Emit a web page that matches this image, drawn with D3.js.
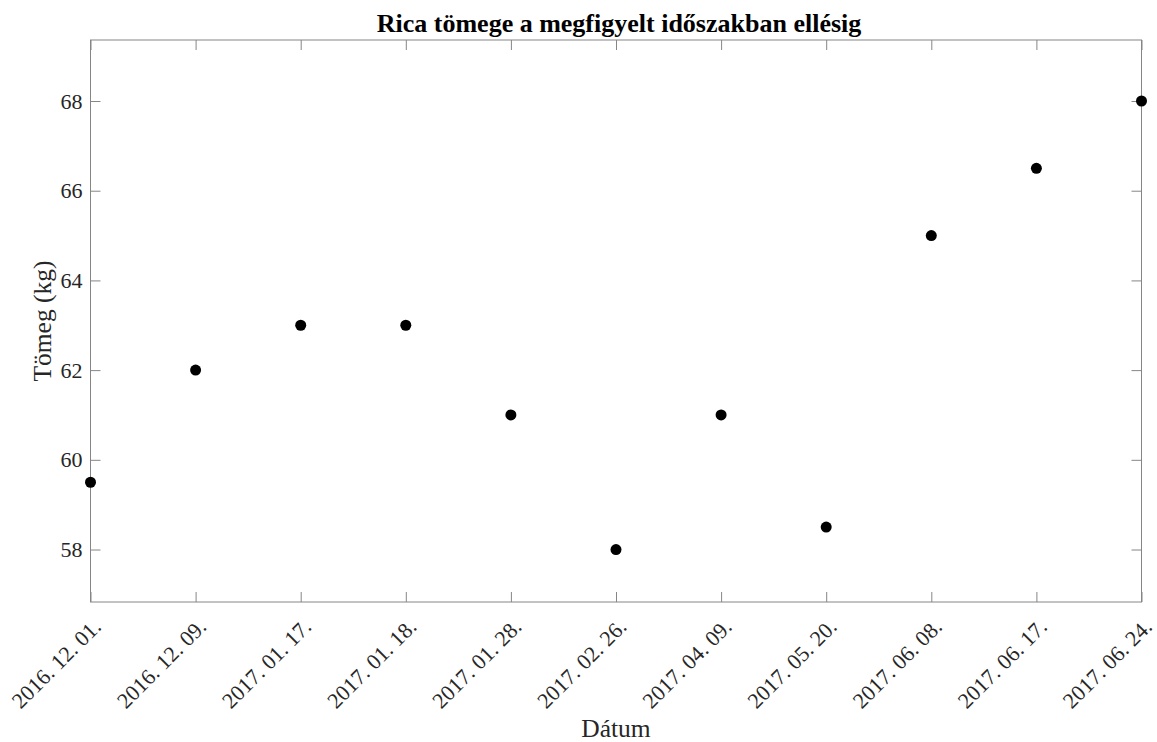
<!DOCTYPE html>
<html>
<head>
<meta charset="utf-8">
<script src="https://cdn.jsdelivr.net/npm/d3@7"></script>
<style>
  body { margin: 0; background: #fff; }
  svg text { font-family: "Liberation Serif", "Times New Roman", serif; }
</style>
</head>
<body>
<svg id="chart" width="1157" height="742"></svg>
<script>
var dates = ["2016. 12. 01.", "2016. 12. 09.", "2017. 01. 17.", "2017. 01. 18.", "2017. 01. 28.",
             "2017. 02. 26.", "2017. 04. 09.", "2017. 05. 20.", "2017. 06. 08.", "2017. 06. 17.", "2017. 06. 24."];
var weights = [59.5, 62, 63, 63, 61, 58, 61, 58.5, 65, 66.5, 68];
var yTicks = [58, 60, 62, 64, 66, 68];

var svg = d3.select('#chart'),
    margin = {top: 40, right: 15.5, bottom: 140, left: 90.5},
    width = +svg.attr('width') - margin.left - margin.right,
    height = 602 - margin.top;

var axisColor = '#868686', textColor = '#262626',
    serif = '"Liberation Serif", "Times New Roman", serif';

var x = d3.scalePoint().domain(dates).range([0, width]);
var y = d3.scaleLinear().domain([56.83, 69.36]).range([height, 0]);

var g = svg.append('g').attr('transform', 'translate(' + margin.left + ',' + margin.top + ')');

// box
g.append('rect')
    .attr('width', width).attr('height', height)
    .attr('fill', 'none').attr('stroke', axisColor).attr('stroke-width', 1);

// y ticks (left + right, inward)
var yAxis = g.append('g').call(d3.axisLeft(y).tickValues(yTicks).tickSize(-10).tickPadding(8));
yAxis.attr('font-family', serif);
yAxis.select('.domain').remove();
yAxis.selectAll('line').attr('stroke', axisColor);
yAxis.selectAll('text').attr('fill', textColor).style('font-size', '22px').style('font-family', serif);

var yRight = g.append('g').attr('transform', 'translate(' + width + ',0)')
    .call(d3.axisRight(y).tickValues(yTicks).tickSize(-10).tickFormat(''));
yRight.select('.domain').remove();
yRight.selectAll('line').attr('stroke', axisColor);

// x ticks (bottom + top, inward)
var xAxis = g.append('g').attr('transform', 'translate(0,' + height + ')')
    .call(d3.axisBottom(x).tickSize(-10).tickFormat(''));
xAxis.select('.domain').remove();
xAxis.selectAll('line').attr('stroke', axisColor);

var xTop = g.append('g').call(d3.axisTop(x).tickSize(-10).tickFormat(''));
xTop.select('.domain').remove();
xTop.selectAll('line').attr('stroke', axisColor);

// rotated x labels
g.selectAll('.xlab')
    .data(dates)
    .enter()
    .append('text')
    .attr('class', 'xlab')
    .attr('transform', d => 'translate(' + (x(d) + 12) + ',' + (height + 26) + ') rotate(-45)')
    .attr('text-anchor', 'end')
    .attr('fill', textColor)
    .style('font-size', '22px')
    .style('font-family', serif)
    .text(d => d);

// points
g.selectAll('.dot')
    .data(weights)
    .enter()
    .append('circle')
    .attr('class', 'dot')
    .attr('cx', (d, i) => x(dates[i]))
    .attr('cy', d => y(d))
    .attr('r', 5.5)
    .attr('fill', '#000');

// title + axis labels
svg.append('text')
    .attr('x', 619).attr('y', 32)
    .attr('text-anchor', 'middle')
    .style('font-size', '26px').style('font-weight', 'bold')
    .style('font-family', serif)
    .attr('fill', '#000')
    .text('Rica tömege a megfigyelt időszakban ellésig');

svg.append('text')
    .attr('x', margin.left + width / 2).attr('y', 737)
    .attr('text-anchor', 'middle')
    .style('font-size', '25.5px')
    .style('font-family', serif)
    .attr('fill', textColor)
    .text('Dátum');

svg.append('text')
    .attr('transform', 'translate(51,' + (margin.top + height / 2) + ') rotate(-90)')
    .attr('text-anchor', 'middle')
    .style('font-size', '25.5px')
    .style('font-family', serif)
    .attr('fill', textColor)
    .text('Tömeg (kg)');
</script>
</body>
</html>
